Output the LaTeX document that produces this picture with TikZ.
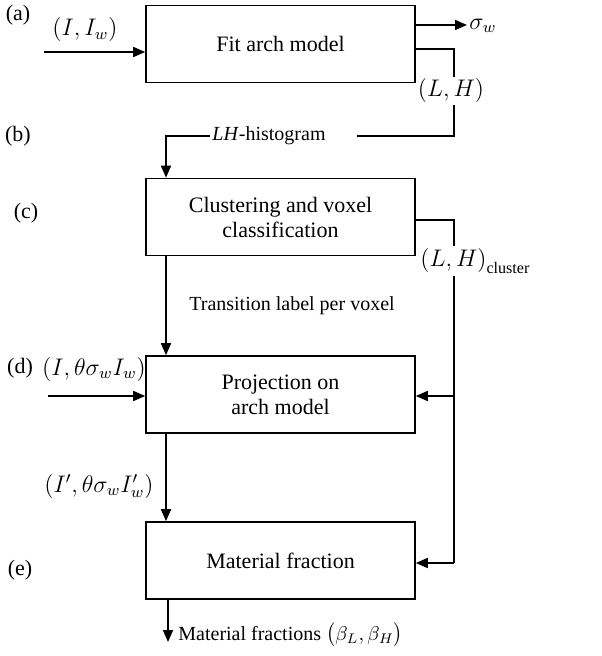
\documentclass[tikz,border=0pt]{standalone}
\usepackage{fontspec}
\setmainfont{Liberation Serif}
\usetikzlibrary{arrows.meta,calc}
\begin{document}
\begin{tikzpicture}[x=0.5pt,y=-0.5pt,
  box/.style={draw,line width=0.8pt,minimum width=134.5pt,minimum height=38.5pt,align=center,font=\fontsize{11}{12.5}\selectfont,inner sep=0pt},
  lbl/.style={font=\fontsize{10}{12}\selectfont,inner sep=1pt},
  mlbl/.style={font=\fontsize{11.5}{13}\selectfont,inner sep=1pt},
  tag/.style={font=\fontsize{11}{12}\selectfont,inner sep=0pt},
  wire/.style={line width=0.8pt},
  arr/.style={wire,-{Triangle[length=6pt,width=5pt]}}]
\useasboundingbox (0,0) rectangle (601,656);
% boxes
\node[box] (A) at (280.5,44) {Fit arch model};
\node[box] (C) at (280.5,217) {Clustering and voxel\\classification};
\node[box] (D) at (280.5,394.5) {Projection on\\arch model};
\node[box] (E) at (280.5,560.5) {Material fraction};
% stage tags
\node[tag] (ta) at (18,15) {(a)};
\node[tag] (tb) at (18,136) {(b)};
\node[tag] (tc) at (26,213) {(c)};
\node[tag] (td) at (20,368) {(d)};
\node[tag] (te) at (20,570) {(e)};
% labels
\node[mlbl] (inAl) at (85,30) {$\bigl(I,I_w\bigr)$};
\node[mlbl,anchor=west] (sig) at (467,26) {$\sigma_w$};
\node[mlbl] (LH) at (451,91) {$\bigl(L,H\bigr)$};
\node[lbl] (hist) at (269,136) {\textit{LH}-histogram};
\node[mlbl,anchor=west] (cl) at (418,261) {$\bigl(L,H\bigr)_{\mathrm{\fontsize{9}{10}\selectfont cluster}}$};
\node[lbl] (trans) at (292,306) {Transition label per voxel};
\node[mlbl] (inDl) at (94,369) {$\bigl(I,\theta\sigma_w I_w\bigr)$};
\node[mlbl] (outDl) at (99,486) {$\bigl(I',\theta\sigma_w I'_w\bigr)$};
\node[lbl,anchor=west] (res) at (176,635) {Material fractions $\bigl(\beta_L,\beta_H\bigr)$};
% coordinates
\coordinate (inA) at (44,52);
\coordinate (inD) at (48,396);
\coordinate (a1) at (415,49);
\coordinate (c1) at (415,220);
\coordinate (rx) at (454,0);
\coordinate (hr) at (357,136);
\coordinate (ey) at (0,563);
\coordinate (cx) at (166,0);
\coordinate (ex) at (168,0);
\coordinate (fin) at (168,642);
% connectors
\draw[arr] (inA) -- (inA -| A.west);
\draw[arr] (A.east |- 0,25) -- (sig.west |- 0,25);
\draw[wire] (a1) -| (LH.north -| rx);
\draw[wire] (LH.south -| rx) |- (hr);
\draw[arr] (hist.west) -| (C.north -| cx);
\draw[wire] (c1) -| (cl.north -| rx);
\draw[wire] (cl.south -| rx) -- (rx |- ey);
\draw[arr] (rx |- ey) -- (E.east |- ey);
\draw[arr] (rx |- inD) -- (D.east |- inD);
\draw[arr] (C.south -| cx) -- (D.north -| cx);
\draw[arr] (inD) -- (inD -| D.west);
\draw[arr] (D.south -| cx) -- (E.north -| cx);
\draw[arr] (E.south -| ex) -- (fin);
\end{tikzpicture}
\end{document}
